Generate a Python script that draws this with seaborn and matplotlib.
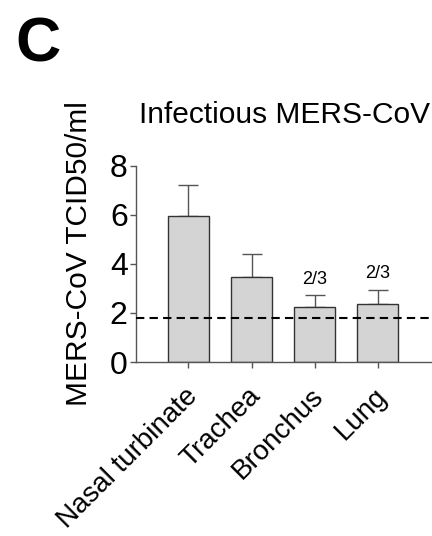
import numpy as np
import pandas as pd
import seaborn as sns
import matplotlib.pyplot as plt
import matplotlib.transforms as mtransforms

# data (log10 TCID50/ml)
tissues = ["Nasal turbinate", "Trachea", "Bronchus", "Lung"]
means = [5.93, 3.47, 2.24, 2.35]
upper = [7.22, 4.41, 2.72, 2.95]
positive = ["", "", "2/3", "2/3"]
detection_limit = 1.81

df = pd.DataFrame({"tissue": tissues, "titer": means})

sns.set_style("ticks")
plt.rcParams['font.family'] = ['Liberation Sans', 'DejaVu Sans']
plt.rcParams['text.color'] = 'black'
plt.rcParams['axes.labelcolor'] = 'black'
plt.rcParams['xtick.labelcolor'] = 'black'
plt.rcParams['ytick.labelcolor'] = 'black'

fig = plt.figure(figsize=(4.32, 5.36), dpi=100)
ax = fig.add_axes([0.315, 0.3246, 0.685, 0.3663])

sns.barplot(data=df, x="tissue", y="titer", color="#d4d4d4",
            edgecolor="#333333", linewidth=1.0, width=0.65,
            saturation=1, errorbar=None, ax=ax, zorder=2)

# upper-only error bars
err = np.array(upper) - np.array(means)
ax.errorbar(np.arange(len(tissues)), means, yerr=[np.zeros(len(err)), err],
            fmt="none", ecolor="#555555", elinewidth=1.0, capsize=7,
            capthick=1.0, zorder=1)

for i, (u, t) in enumerate(zip(upper, positive)):
    if t:
        ax.text(i, u + 0.3, t, ha="center", va="bottom", fontsize=13)

ax.axhline(detection_limit, color="black", linestyle=(0, (4, 2.5)),
           linewidth=1.5, zorder=3)

ax.set_xlim(-0.83, 3.86)
ax.set_ylim(0, 8)
ax.set_yticks([0, 2, 4, 6, 8])
ax.set_xlabel("")
ax.set_ylabel("MERS-CoV TCID50/ml", fontsize=21.5)
ax.yaxis.set_label_coords(-0.145, 0.55)
ax.set_title("Infectious MERS-CoV", fontsize=21.5, pad=31)

ax.tick_params(axis="y", labelsize=23, length=4, width=1, color="#555555",
               pad=2)
ax.tick_params(axis="x", labelsize=20, length=4, width=1, color="#555555",
               pad=6)
shift = mtransforms.ScaledTranslation(-4 / 100, -7 / 100, fig.dpi_scale_trans)
for lab in ax.get_xticklabels():
    lab.set_rotation(45)
    lab.set_ha("right")
    lab.set_rotation_mode("anchor")
    lab.set_transform(lab.get_transform() + shift)

for s in ["left", "bottom"]:
    ax.spines[s].set_color("#555555")
    ax.spines[s].set_linewidth(1.0)
sns.despine(ax=ax)

fig.text(0.035, 0.885, "C", fontsize=45, fontweight="bold")

fig.savefig("out.png", dpi=100)
